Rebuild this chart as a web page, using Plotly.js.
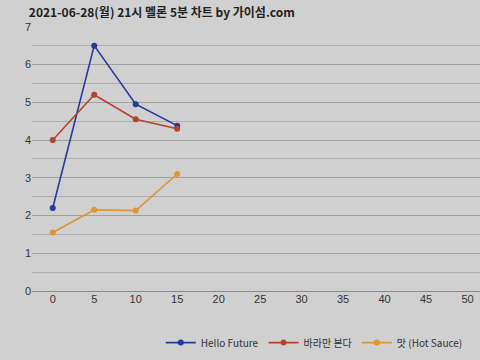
<!DOCTYPE html>
<html>
<head>
<meta charset="utf-8">
<script src="https://cdn.plot.ly/plotly-3.0.1.min.js"></script>
<style>html,body{margin:0;padding:0;background:#d0d0d0;}#chart{width:480px;height:360px;}</style>
</head>
<body>
<div id="chart"></div>
<script>
const xTimes = [0, 5, 10, 15];
const helloFuture = [2.2, 6.5, 4.95, 4.38];
const baraman = [4.0, 5.2, 4.55, 4.3];
const hotSauce = [1.55, 2.15, 2.13, 3.1];
const seriesNames = ["Hello Future", "바라만 본다", "맛 (Hot Sauce)"];
const titleText = "2021-06-28(월) 21시 멜론 5분 차트 by 가이섬.com";

const colors = ["#24399a", "#b4432c", "#de9536"];
const data = [helloFuture, baraman, hotSauce].map((ys, i) => ({
  x: xTimes, y: ys, name: seriesNames[i], type: "scatter", mode: "lines+markers",
  line: {color: colors[i], width: 1.6}, marker: {color: colors[i], size: 6}
}));

const layout = {
  width: 480, height: 360,
  paper_bgcolor: "#d0d0d0", plot_bgcolor: "#d0d0d0",
  font: {family: "Liberation Sans, Arial, sans-serif", color: "#333", size: 11},
  title: {text: titleText, x: 0.06, xanchor: "left", y: 0.975, yanchor: "top",
          font: {size: 12, color: "#222", family: "Noto Sans CJK KR, sans-serif", weight: "bold"}},
  margin: {l: 32, r: 0, t: 26, b: 69},
  xaxis: {range: [-2.5, 51.5], tickvals: [0,5,10,15,20,25,30,35,40,45,50], showgrid: false,
          zeroline: false, showline: false, ticks: "", tickfont: {size: 11, color: "#333"}},
  yaxis: {range: [0, 7.02], dtick: 1, showgrid: true, gridcolor: "#a0a0a0", gridwidth: 1,
          minor: {dtick: 0.5, showgrid: true, gridcolor: "#adadad", gridwidth: 1},
          zeroline: true, zerolinecolor: "#8a8a8a", ticks: "", tickfont: {size: 11, color: "#333"}},
  legend: {orientation: "h", x: 0.63, xanchor: "center", y: -0.14, yanchor: "top",
           font: {size: 10, color: "#333", family: "Noto Sans CJK KR, sans-serif"}, bgcolor: "rgba(0,0,0,0)"},
  showlegend: true
};
Plotly.newPlot("chart", data, layout, {displayModeBar: false, staticPlot: true});
</script>
</body>
</html>
